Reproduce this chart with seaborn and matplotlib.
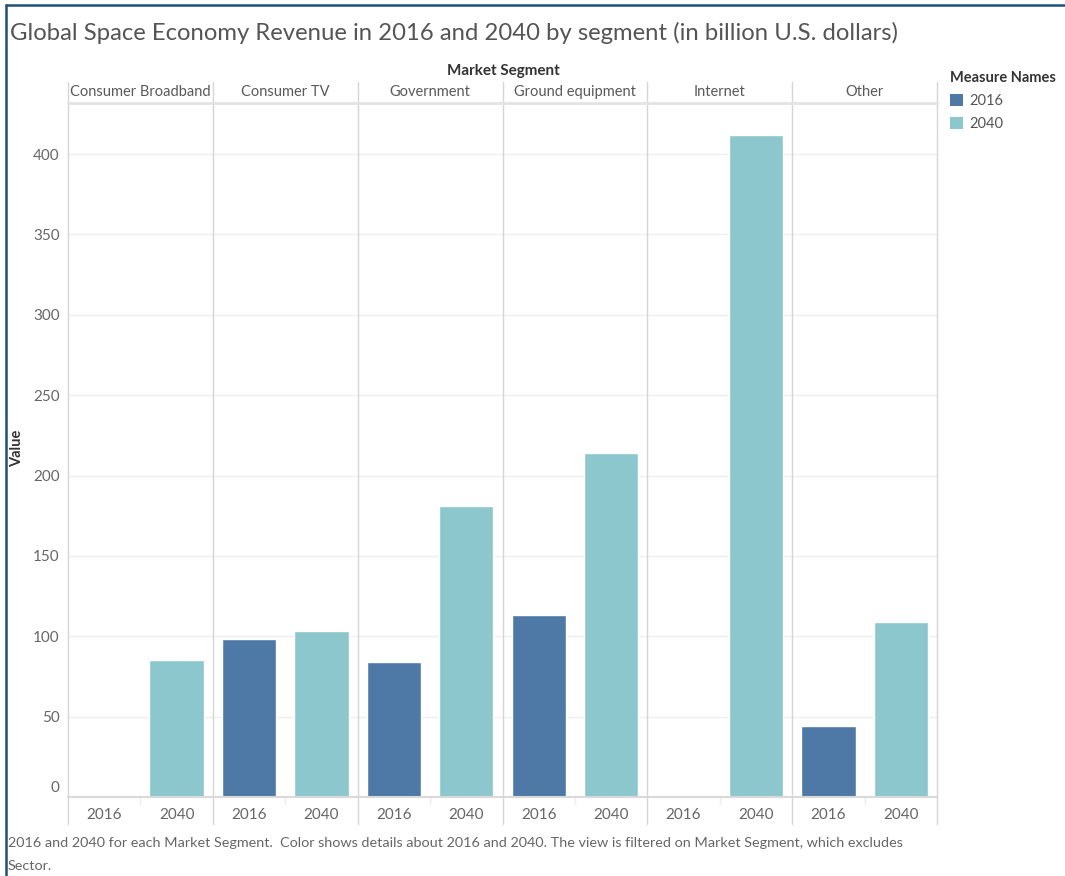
import matplotlib
matplotlib.use("Agg")
import matplotlib.pyplot as plt
import matplotlib.transforms as mtransforms
from matplotlib.lines import Line2D
from matplotlib.patches import Patch
import seaborn as sns
import pandas as pd
import numpy as np

# ---- data ----
segments = ["Consumer Broadband", "Consumer TV", "Government",
            "Ground equipment", "Internet", "Other"]
years = ["2016", "2040"]
values_2016 = [np.nan, 98, 84, 113, np.nan, 44]
values_2040 = [85, 103, 181, 214, 412, 109]
y_ticks = [0, 50, 100, 150, 200, 250, 300, 350, 400]
colors = {"2016": "#4E79A7", "2040": "#8CC7CD"}

rows = []
for s, a, b in zip(segments, values_2016, values_2040):
    rows.append({"segment": s, "year": "2016", "value": a})
    rows.append({"segment": s, "year": "2040", "value": b})
df = pd.DataFrame(rows)

sns.set_theme(style="white")
plt.rcParams["font.family"] = ["Lato", "DejaVu Sans"]

W, H = 1065, 876
fig = plt.figure(figsize=(W / 100, H / 100), dpi=100)

def fx(px):
    return px / W

def fy(py):
    return 1 - py / H

left_px, right_px = 68, 937
top_px, bottom_px = 103, 797
panel_w = (right_px - left_px) / len(segments)
ymax = (bottom_px - top_px) / 1.6075

grid_c = "#EFEFEF"
sep_c = "#D6D6D6"
text_c = "#666666"

axes = []
for i, seg in enumerate(segments):
    ax = fig.add_axes([fx(left_px + i * panel_w), fy(bottom_px),
                       panel_w / W, (bottom_px - top_px) / H])
    sub = df[df["segment"] == seg]
    sns.barplot(data=sub, x="year", y="value", hue="year", order=years,
                hue_order=years, palette=colors, width=0.75, legend=False,
                ax=ax, saturation=1, errorbar=None)
    ax.set_ylim(0, ymax)
    ax.set_xlim(-0.5, 1.5)
    ax.set_yticks(y_ticks)
    ax.yaxis.grid(True, color=grid_c, linewidth=1)
    ax.set_axisbelow(True)
    for sp in ax.spines.values():
        sp.set_visible(False)
    ax.set_xlabel("")
    ax.set_ylabel("")
    ax.tick_params(axis="x", length=0, pad=8, labelsize=11, labelcolor=text_c)
    ax.tick_params(axis="y", length=0, pad=6, labelsize=11, labelcolor=text_c)
    if i > 0:
        ax.tick_params(axis="y", labelleft=False)
    else:
        # shift bottom label up like the reference
        lbl0 = ax.get_yticklabels()[0]
        off = mtransforms.ScaledTranslation(0, 10 / 100, fig.dpi_scale_trans)
        lbl0.set_transform(lbl0.get_transform() + off)
    # header
    fig.text(fx(left_px + (i + 0.5) * panel_w), fy(92), seg, ha="center",
             va="center", fontsize=10.5, color="#595959")
    axes.append(ax)

# vertical separators through header and tick label area
for i in range(len(segments) + 1):
    x = fx(left_px + i * panel_w)
    fig.add_artist(Line2D([x, x], [fy(82), fy(824)], color=sep_c, lw=1.0))
# light mid-panel dividers at baseline
for i in range(len(segments)):
    x = fx(left_px + (i + 0.5) * panel_w)
    fig.add_artist(Line2D([x, x], [fy(797), fy(804)], color="#EBEBEB", lw=1.0))
# top header line and baseline
fig.add_artist(Line2D([fx(left_px), fx(right_px)], [fy(103), fy(103)],
                      color="#E3E3E3", lw=2.0))
fig.add_artist(Line2D([fx(left_px), fx(right_px)], [fy(797), fy(797)],
                      color="#D9D9D9", lw=1.5))

# titles and labels
fig.text(fx(10), fy(33), "Global Space Economy Revenue in 2016 and 2040 by segment (in billion U.S. dollars)",
         ha="left", va="center", fontsize=17.2, color="#555555", fontweight="normal")
fig.text(fx(503), fy(71), "Market Segment", ha="center", va="center",
         fontsize=11, color="#333333", fontweight="bold")
fig.text(fx(17), fy(448), "Value", ha="center", va="center", rotation=90,
         fontsize=10.5, color="#333333", fontweight="bold")
fig.text(fx(8), fy(843),
         "2016 and 2040 for each Market Segment.  Color shows details about 2016 and 2040. The view is filtered on Market Segment, which excludes",
         ha="left", va="center", fontsize=10.35, color="#666666")
fig.text(fx(8), fy(866), "Sector.", ha="left", va="center", fontsize=10.35,
         color="#666666")

# legend
handles = [Patch(facecolor=colors[y], edgecolor="none", label=y) for y in years]
leg = fig.legend(handles=handles, title="Measure Names", loc="upper left",
                 bbox_to_anchor=(fx(940), fy(61)), frameon=False,
                 fontsize=10.5, title_fontsize=10.5, handlelength=0.9,
                 handleheight=0.9, handletextpad=0.4, labelspacing=0.6,
                 borderpad=0.2, alignment="left")
leg.get_title().set_fontweight("bold")
leg.get_title().set_color("#333333")
for t in leg.get_texts():
    t.set_color("#555555")

# outer frame (left and top edges visible)
frame_c = "#1F4E79"
fig.add_artist(Line2D([fx(6), fx(6)], [fy(5), 0], color=frame_c, lw=1.8))
fig.add_artist(Line2D([fx(6), 1], [fy(5), fy(5)], color=frame_c, lw=1.8))

fig.savefig("out.png", dpi=100)
